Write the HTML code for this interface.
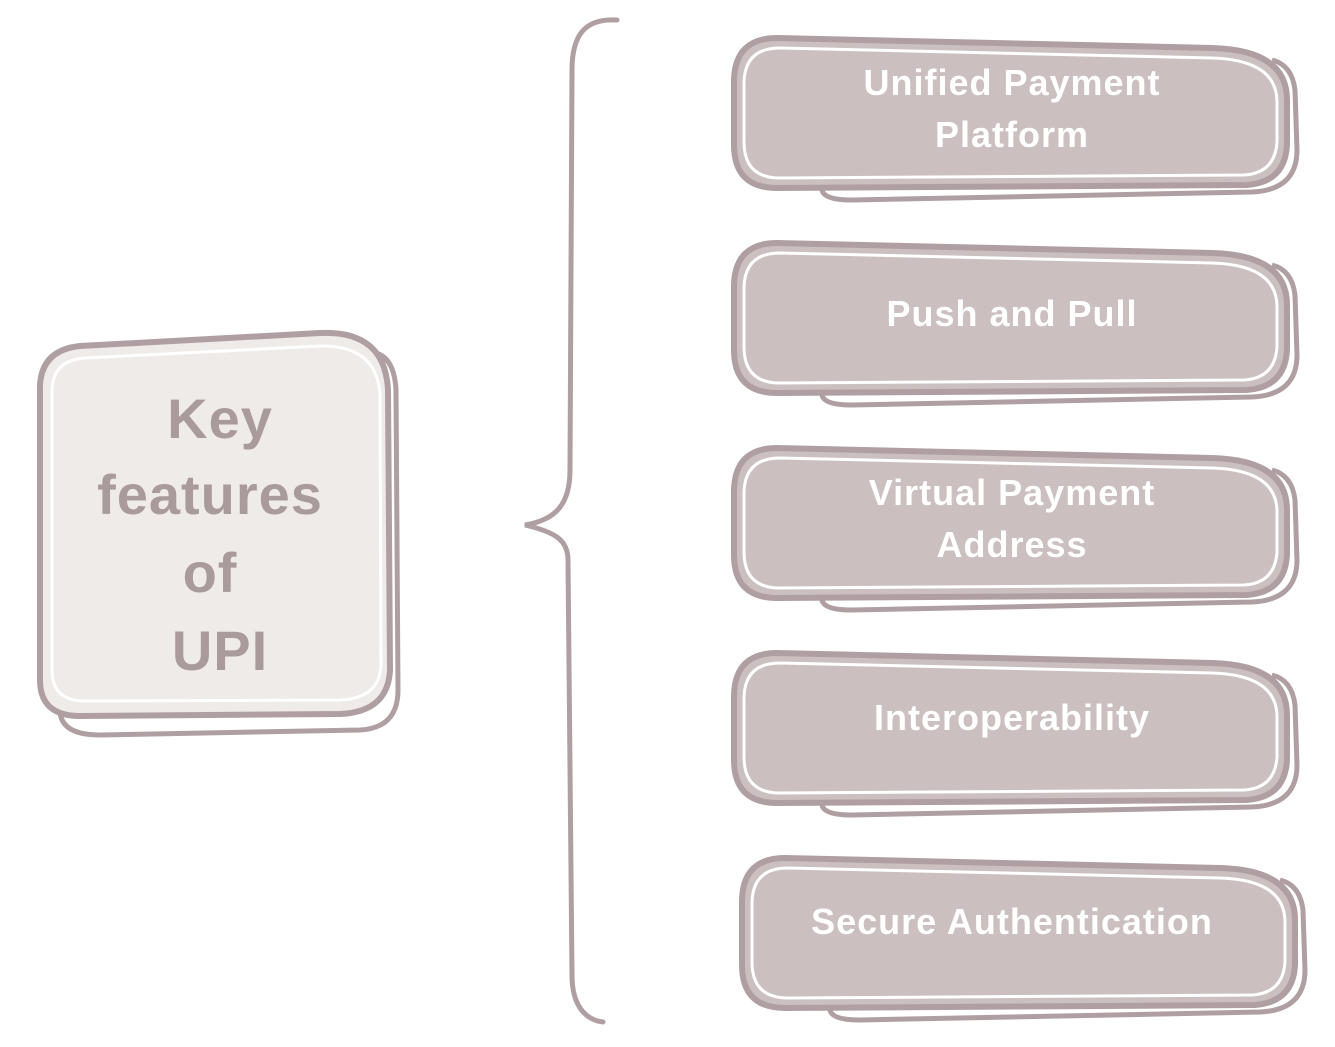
<!DOCTYPE html>
<html><head><meta charset="utf-8"><style>
html,body{margin:0;padding:0;background:#fff;}
svg{display:block}
text{font-family:"Liberation Sans","DejaVu Sans",sans-serif;font-weight:bold;text-anchor:middle;letter-spacing:1px}
</style></head><body>
<svg width="1335" height="1047" viewBox="0 0 1335 1047">
<g fill="none" stroke="#b09fa2" stroke-width="5" stroke-linecap="round">
<path d="M617 20 C585 18 572 35 572 70 L570 470 C570 505 555 520 525 525 C555 532 568 540 568 560 L572 975 C572 1005 585 1020 603 1022"/>
</g>
<g>
<path d="M60 712 Q62 735 100 735 L360 730 Q398 728 398 690 L396 390 Q394 352 368 352" fill="none" stroke="#b09fa2" stroke-width="5"/>
<path d="M40 385 Q42 350 80 346 L320 333 Q385 330 388 390 L390 670 Q388 712 340 714 L80 716 Q40 716 40 680 Z" fill="#eeebe9" stroke="#b09fa2" stroke-width="6"/>
<path d="M52 390 Q53 360 85 358 L320 346 Q377 345 380 395 L381 665 Q380 698 340 700 L85 701 Q52 701 52 670 Z" fill="none" stroke="#fff" stroke-width="3"/>
<g fill="#a99a9b" font-size="56">
<text x="220" y="438">Key</text>
<text x="210" y="514">features</text>
<text x="210" y="592">of</text>
<text x="220" y="670">UPI</text>
</g>
</g>
<defs>
<g id="box">
<path d="M90 160 Q92 170 120 170 L520 162 Q565 160 565 120 L563 60 Q560 35 540 30" fill="none" stroke="#b09fa2" stroke-width="5"/>
<path d="M2 50 Q3 8 45 8 L480 18 Q555 20 555 70 L555 115 Q553 152 515 155 L45 158 Q2 158 2 115 Z" fill="#cbbfbf" stroke="#b09fa2" stroke-width="6"/>
<path d="M12 52 Q13 18 48 18 L480 28 Q545 30 545 72 L545 112 Q543 143 512 145 L48 148 Q12 148 12 112 Z" fill="none" stroke="#fff" stroke-width="3"/>
</g>
</defs>
<use href="#box" x="732" y="30"/>
<use href="#box" x="732" y="235"/>
<use href="#box" x="732" y="440"/>
<use href="#box" x="732" y="645"/>
<use href="#box" x="740" y="850"/>
<g fill="#fff" font-size="36">
<text x="1012" y="95">Unified Payment</text>
<text x="1012" y="147">Platform</text>
<text x="1012" y="326">Push and Pull</text>
<text x="1012" y="505">Virtual Payment</text>
<text x="1012" y="557">Address</text>
<text x="1012" y="730">Interoperability</text>
<text x="1012" y="934">Secure Authentication</text>
</g>
</svg>
</body></html>
